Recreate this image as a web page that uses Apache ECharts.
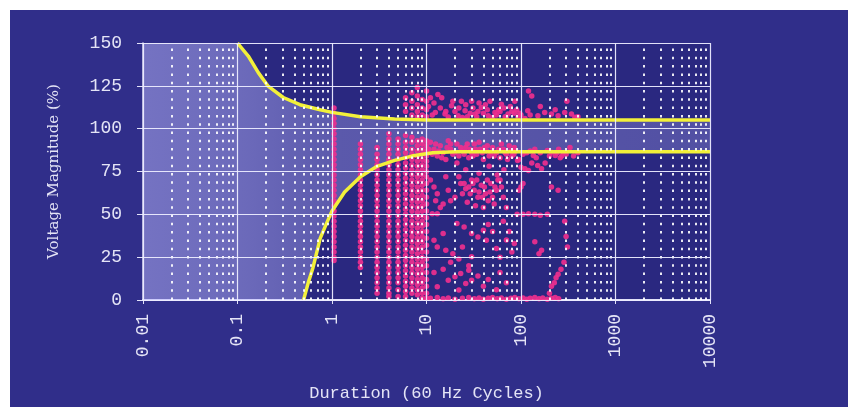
<!DOCTYPE html>
<html><head><meta charset="utf-8">
<script src="https://cdn.jsdelivr.net/npm/echarts@6/dist/echarts.min.js"></script>
<style>
html,body{margin:0;padding:0;background:#ffffff;width:851px;height:407px;overflow:hidden}
#panel{position:absolute;left:10px;top:10px;width:838px;height:397px}
</style></head>
<body><div id="panel"></div>
<script>
// ---------- axis ticks ----------
const xTickValues = [0.01, 0.1, 1, 10, 100, 1000, 10000];
const xTickLabels = ['0.01', '0.1', '1', '10', '100', '1000', '10000'];
const yTickValues = [0, 25, 50, 75, 100, 125, 150];
const minorMultipliers = [2, 3, 4, 5, 6, 7, 8, 9];

// ---------- CBEMA envelope curves [cycles, %] ----------
const upperCurve = [[0.1,150],[0.13,142.4],[0.166,132.7],[0.211,124.8],[0.305,118.2],[0.458,114],[0.75,111],[1,109.5],[2,107],[4.6,105.6],[10,105],[10000,105]];
const lowerCurve = [[0.5,0],[0.56,10],[0.63,19],[0.75,36],[0.88,45],[1,52],[1.36,63],[2,72],[3,78],[4.6,81.5],[7,84],[11.6,86],[20,86.5],[10000,86.5]];

// ---------- measured events: columns at integer cycle durations ----------
const columnDurations = [1.05, 2, 3, 4, 5, 6, 7, 8, 9, 10];
const columnMagnitudes = [
  [112,109,106,103,100,97,94,91,88,85,82,79,76,73,70,67,64,61,58,55,52,49,46,43,40,37,34,31,28,25,23],
  [91,88,85,82,79,76,73,70,67,64,61,58,55,52,49,46,43,40,37,34,31,28,25,22,19],
  [89,85,82,79,76,73,70,67,64,61,58,55,52,49,46,43,40,37,34,31,28,25,22,19,16,13,10,7,4],
  [97,94,91,88,85,82,79,76,73,70,67,64,61,58,55,52,49,46,43,40,37,34,31,28,25,22,19,16,13,10,7,4,2],
  [94,91,88,85,82,79,76,73,70,67,64,61,58,55,52,49,46,43,40,37,34,31,28,25,22,19,16,13,10,6,2],
  [118,114,110,96,92,89,86,83,80,77,74,71,68,65,62,59,56,53,50,47,44,41,38,35,32,29,26,23,20,17,14,11,8,5,2],
  [121,116,112,108,95,92,88,85,82,79,76,73,70,67,64,61,58,55,52,49,46,43,40,37,34,31,28,25,22,19,16,13,10,7,4],
  [124,119,114,110,107,93,90,87,84,81,78,75,72,69,66,63,60,57,54,51,48,45,42,39,36,33,30,27,24,21,18,15,12,9,6,3],
  [117,112,108,94,91,88,85,82,79,76,73,70,67,64,61,58,55,52,49,46,43,40,37,34,31,28,25,22,19,16,13,10,7,4,1],
  [122,116,111,107,93,90,87,84,81,78,75,72,68,64,60,56,52,48,44,40,36,32,28,24,20,16,12,8,4,1]
];

// ---------- measured events: scattered [cycles, %] ----------
const swellEvents = [[11,118],[12.4,109.5],[13.2,120],[15.7,108.5],[18.4,113.4],[21.6,107.6],[23.4,116],[25.6,110.5],[30,116],[32.6,108.5],[38,112.4],[45,107.6],[53,109.5],[62,114.3],[73,108.5],[86,116],[93,106.6],[14,112],[17,106.8],[20,110],[27,107],[35,110],[42,114],[50,106.5],[58,111],[68,107],[80,110],[120,122],[130,119],[306,116],[85,109],[100,108],[118,110.5],[151,107.6],[178,109.5],[210,108.5],[247,107.6],[290,109.5],[342,108.5],[372,106.6],[160,113],[230,111],[400,107],
  [10.5,113],[11.5,108],[12,115],[14.5,118],[16,110],[19,116],[22,112],[24,106.5],[26,114],[29,109],[31,112],[34,107],[36,115],[40,109],[44,111],[47,116],[55,108],[60,110],[66,112],[70,106],[77,113],[90,111],[97,109],[110,106],[125,108]];
const nearNominalEvents = [[11,92],[12,88],[13,84],[14,90],[15,86],[16,82],[17,93],[18,88],[19,85],[21,91],[22,84],[24,87],[26,89],[28,83],[30,86],[32,91],[34,85],[37,88],[40,82],[43,87],[46,84],[50,89],[55,86],[60,83],[65,88],[70,85],[75,90],[80,84],[88,87],[95,82],[85,89],[92,81.4],[100,77.5],[110,76.6],[120,75.6],[135,84.3],[150,78.5],[165,76.6],[190,87.2],[210,86.2],[230,84.3],[250,88],[260,83],[280,86],[300,85],[330,89],[360,84],[400,86],[180,80],[140,88],[115,86],
  [10.5,88],[11.5,85],[12.5,91],[13.5,87],[14.5,83],[16.5,89],[18,91],[20,86],[23,89],[25,85],[27,91],[29,88],[31,84],[33,88],[36,92],[39,86],[41,89],[44,90],[48,86],[52,84],[58,88],[62,91],[68,86],[72,82],[78,87],[84,85],[105,85],[125,87],[130,80],[145,83],[160,86],[200,84],[240,86],[270,84]];
const sagEvents = [[11,70],[12,66],[13,62],[12.5,58],[14,54],[16,72],[11.5,50.4],[13,50.4],[15,56],[17,64],[22,72],[25,68],[28,66],[30,70],[32,64],[35,60],[38,67],[42,62],[45,58],[48,68],[52,56],[55,64],[60,70],[65,60],[70,54],[20,60],[18,58],[40,54],[24,62],[27,57],[33,55],[100,66],[95,64],[105,68],[210,66],[247,64],[91,50],[105,50],[120,50.4],[140,50],[160,49.5],[190,50],[26,76],[36,74],[46,78],[21,80],[56,73],[66,76],
  [23,68],[26,65],[29,62],[31,68],[34,70],[36,63],[39,60],[41,66],[44,70],[47,63],[50,60],[53,66],[57,70],[62,66],
  [21,44.6],[25,42.6],[30,38.8],[35,36.8],[40,40.7],[43,34.9],[15,38.8],[12,34.9],[13,31],[16,29],[19,27],[24,31],[30,25.2],[45,44],[50,40],[55,30],[60,25],[70,35],[80,28],[140,34],[155,27],[165,29],[290,46],[300,37],[310,31],[18,22],[22,24],[28,20],[65,46],[75,40],[85,33]];
const deepSagEvents = [[17,11.6],[20,13.5],[23,15.5],[26,9.7],[30,11.6],[13,7.7],[22,5.8],[28,17.4],[35,14],[40,8],[45,12],[55,6],[210,8],[225,10],[235,13],[247,15],[265,18],[285,22],[200,4],[60,16],[70,10],[12,16],[15,18],
  [11,1],[13,1.5],[15,0.8],[17,1.2],[20,0.5],[24,1],[28,1.5],[32,0.8],[36,1.2],[40,0.5],[45,1],[50,1.5],[56,0.8],[62,1.2],[70,0.5],[78,1],[86,1.5],[95,0.8],[105,1.2],[115,0.5],[125,1],[140,1.5],[155,0.8],[170,1.2],[190,0.5],[210,1],[230,1.5],[250,0.8]];

// ---------- build ----------
const columnPoints = [];
columnDurations.forEach((d, i) => columnMagnitudes[i].forEach(m => columnPoints.push([d, m])));
const eventPoints = columnPoints.concat(swellEvents, nearNominalEvents, sagEvents, deepSagEvents);

const gridWhite = 'rgba(236,236,255,0.95)';
const gridLines = [];
xTickValues.forEach((d, i) => {
  gridLines.push({ xAxis: d, lineStyle: { color: gridWhite, width: 1.2, type: 'solid' } });
  if (i < xTickValues.length - 1) {
    minorMultipliers.forEach(m => gridLines.push({ xAxis: +(d * m).toPrecision(6), lineStyle: { color: 'rgba(255,255,255,0.9)', width: 2, type: [2.5, 5.8] } }));
  }
});
yTickValues.forEach(v => gridLines.push({ yAxis: v, lineStyle: { color: gridWhite, width: 1.2, type: 'solid' } }));

const chart = echarts.init(document.getElementById('panel'));
const labelFont = { color: '#e4e4f6', fontFamily: 'Liberation Mono', fontSize: 18 };

chart.setOption({
  backgroundColor: '#302e8a',
  animation: false,
  grid: { left: 133, top: 33, width: 567, height: 257, show: true, backgroundColor: '#2a2880', borderWidth: 0 },
  xAxis: {
    type: 'log', logBase: 10, min: 0.01, max: 10000,
    name: 'Duration (60 Hz Cycles)', nameLocation: 'middle', nameGap: 85,
    nameTextStyle: { color: '#e4e4f6', fontFamily: 'Liberation Mono', fontSize: 17 },
    axisLine: { show: true, lineStyle: { color: gridWhite, width: 2 } },
    axisTick: { show: true, length: 4, lineStyle: { color: gridWhite } },
    axisLabel: Object.assign({ rotate: 90, margin: 14, formatter: v => xTickLabels[Math.round(Math.log10(v)) + 2] }, labelFont),
    splitLine: { show: false }
  },
  yAxis: {
    type: 'value', min: 0, max: 150, interval: 25,
    name: 'Voltage Magnitude (%)', nameLocation: 'middle', nameGap: 81,
    nameTextStyle: { color: '#e4e4f6', fontFamily: 'DejaVu Serif', fontSize: 15 },
    axisLine: { show: true, lineStyle: { color: gridWhite, width: 1.5 } },
    axisTick: { show: true, length: 6, lineStyle: { color: gridWhite } },
    axisLabel: Object.assign({ margin: 21 }, labelFont),
    splitLine: { show: false }
  },
  series: [
    {
      type: 'custom', z: 1, silent: true, data: [[0.01, 0]],
      renderItem: function (params, api) {
        const pts = [api.coord([0.01, 150])];
        upperCurve.forEach(p => pts.push(api.coord(p)));
        lowerCurve.slice().reverse().forEach(p => pts.push(api.coord(p)));
        pts.push(api.coord([0.01, 0]));
        return {
          type: 'polygon', shape: { points: pts },
          style: { fill: new echarts.graphic.LinearGradient(0, 0, 1, 0, [
            { offset: 0, color: 'rgba(185,183,255,0.52)' },
            { offset: 0.18, color: 'rgba(185,183,255,0.46)' },
            { offset: 0.35, color: 'rgba(185,183,255,0.34)' },
            { offset: 1, color: 'rgba(185,183,255,0.28)' }
          ]) }
        };
      }
    },
    {
      type: 'line', z: 2, data: [], silent: true,
      markLine: { silent: true, symbol: 'none', animation: false, label: { show: false }, data: gridLines }
    },
    {
      type: 'scatter', z: 3, data: eventPoints, symbolSize: 5.5,
      itemStyle: { color: '#ee2f8e', opacity: 0.92 }
    },
    {
      type: 'line', z: 4, data: upperCurve, showSymbol: false, symbol: 'none', smooth: false,
      lineStyle: { color: '#f2f03a', width: 3.5 }
    },
    {
      type: 'line', z: 4, data: lowerCurve, showSymbol: false, symbol: 'none', smooth: false,
      lineStyle: { color: '#f2f03a', width: 3.5 }
    }
  ]
});
</script></body></html>
